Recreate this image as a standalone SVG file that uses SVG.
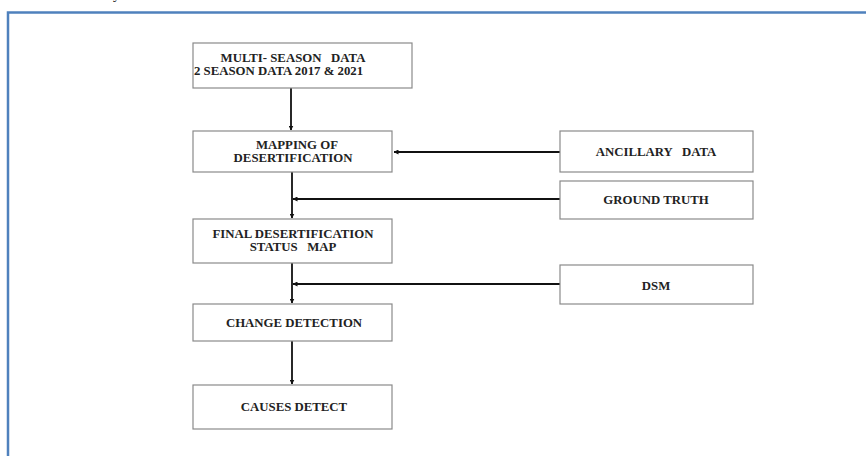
<svg xmlns="http://www.w3.org/2000/svg" width="866" height="456" viewBox="0 0 866 456">
<style>
.box{fill:#fff;stroke:#8a8a8a;stroke-width:1.2}
.t{font-family:"Liberation Serif","Times New Roman",serif;font-weight:bold;font-size:12.8px;fill:#222;text-anchor:middle;white-space:pre}
.l{fill:none;stroke:#111;stroke-width:1.8}
</style>
<defs>
<marker id="ah" viewBox="0 0 10 10" refX="9" refY="5" markerWidth="5" markerHeight="5" orient="auto" markerUnits="userSpaceOnUse">
<path d="M0,0 L10,5 L0,10 z" fill="#111"/>
</marker>
</defs>
<rect x="0" y="0" width="866" height="456" fill="#fff"/>
<text x="113" y="-1" style="font-family:'Liberation Serif',serif;font-size:14px;fill:#111">y</text>
<path d="M8,470 V12.5 H870" fill="none" stroke="#4f81bd" stroke-width="2.5"/>
<g id="connectors">
<line class="l" x1="291" y1="88" x2="291" y2="130" marker-end="url(#ah)"/>
<line class="l" x1="560" y1="152" x2="394" y2="152" marker-end="url(#ah)"/>
<line class="l" x1="292" y1="172" x2="292" y2="218" marker-end="url(#ah)"/>
<line class="l" x1="560" y1="199" x2="293" y2="199" marker-end="url(#ah)"/>
<line class="l" x1="292" y1="263" x2="292" y2="303" marker-end="url(#ah)"/>
<line class="l" x1="560" y1="284" x2="293" y2="284" marker-end="url(#ah)"/>
<line class="l" x1="292" y1="341" x2="292" y2="384" marker-end="url(#ah)"/>
</g>
<g id="multi-season">
<rect class="box" x="193" y="43" width="219" height="45"/>
<text class="t" x="293" y="62" xml:space="preserve">MULTI- SEASON   DATA</text>
<text class="t" x="194" y="75" style="text-anchor:start">2 SEASON DATA 2017 &amp; 2021</text>
</g>
<g id="mapping">
<rect class="box" x="193" y="131" width="199" height="41"/>
<text class="t" x="297" y="149">MAPPING OF</text>
<text class="t" x="293" y="162">DESERTIFICATION</text>
</g>
<g id="ancillary">
<rect class="box" x="560" y="131" width="193" height="41"/>
<text class="t" x="656" y="156" xml:space="preserve">ANCILLARY   DATA</text>
</g>
<g id="ground-truth">
<rect class="box" x="560" y="181" width="193" height="38"/>
<text class="t" x="656" y="204">GROUND TRUTH</text>
</g>
<g id="final-status">
<rect class="box" x="193" y="219" width="199" height="44"/>
<text class="t" x="293" y="238">FINAL DESERTIFICATION</text>
<text class="t" x="293" y="251" xml:space="preserve">STATUS   MAP</text>
</g>
<g id="dsm">
<rect class="box" x="560" y="265" width="193" height="39"/>
<text class="t" x="656" y="290">DSM</text>
</g>
<g id="change-detection">
<rect class="box" x="193" y="304" width="199" height="37"/>
<text class="t" x="294" y="327">CHANGE DETECTION</text>
</g>
<g id="causes-detect">
<rect class="box" x="193" y="385" width="199" height="44"/>
<text class="t" x="294" y="411">CAUSES DETECT</text>
</g>
</svg>
